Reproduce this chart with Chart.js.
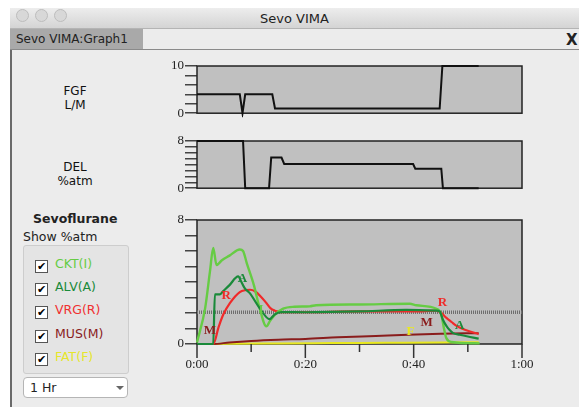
<!DOCTYPE html>
<html>
<head>
<meta charset="utf-8">
<script src="https://cdn.jsdelivr.net/npm/chart.js@4.4.1/dist/chart.umd.min.js"></script>
<style>
  body { margin: 0; width: 579px; height: 407px; background: #fff; overflow: hidden; position: relative;
         font-family: "DejaVu Sans", sans-serif; color: #222; }
  .abs { position: absolute; }
  #titlebar { left: 10px; top: 8px; width: 569px; height: 20px; background: linear-gradient(#ededed, #d4d4d4);
              border-bottom: 1px solid #b4b4b4; font-size: 13px; text-align: center; line-height: 22px; }
  .light { top: 9px; width: 11px; height: 11px; border-radius: 50%; background: #d8d8d8; border: 1px solid #bdbdbd; }
  #tabrow { left: 10px; top: 29px; width: 569px; height: 20px; background: #ececec; border-bottom: 1px solid #8a8a8a; }
  #tab { left: 10px; top: 29px; width: 133px; height: 20px; background: #a9a9a9; font-size: 12px; line-height: 20px; padding-left: 6px; box-sizing: border-box; }
  #closex { left: 566px; top: 29px; font-size: 15px; font-weight: bold; line-height: 22px; }
  #content { left: 10px; top: 50px; width: 569px; height: 357px; background: #ececec; border-left: 2px solid #6a6a6a; box-sizing: border-box; }
  .side { font-size: 12px; text-align: center; width: 60px; line-height: 14px; color: #111; }
  #group { left: 23px; top: 245px; width: 104px; height: 127px; background: #e4e4e4; border: 1px solid #cdcdcd; border-radius: 3px; }
  .row { left: 35px; height: 16px; font-size: 12.5px; line-height: 16px; }
  .box { display: inline-block; width: 11px; height: 11px; border: 1px solid #555; background: #fff; vertical-align: -2px;
         margin-right: 7px; font-size: 11px; line-height: 11px; text-align: center; font-weight: bold; color: #000; }
  #dropdown { left: 23px; top: 377px; width: 105px; height: 21px; background: #fff; border: 1px solid #b5b5b5; border-radius: 4px;
              box-sizing: border-box; font-size: 12.5px; line-height: 20px; padding-left: 6px; }
  #arrow { left: 92px; top: 8px; width: 0; height: 0; border-left: 4px solid transparent; border-right: 4px solid transparent; border-top: 4px solid #666; }
  canvas { position: absolute; }
</style>
</head>
<body>
<div id="titlebar" class="abs">Sevo VIMA</div>
<div class="abs light" style="left:16px"></div>
<div class="abs light" style="left:35px"></div>
<div class="abs light" style="left:54px"></div>
<div id="tabrow" class="abs"></div>
<div id="tab" class="abs">Sevo VIMA:Graph1</div>
<div id="closex" class="abs">X</div>
<div id="content" class="abs"></div>

<div class="abs side" style="left:45px;top:84px">FGF<br>L/M</div>
<div class="abs side" style="left:45px;top:160px">DEL<br>%atm</div>
<div class="abs" style="left:33px;top:211px;font-size:12.5px;font-weight:bold">Sevoflurane</div>
<div class="abs" style="left:23px;top:229px;font-size:12.5px">Show %atm</div>
<div id="group" class="abs"></div>
<div class="abs row" style="top:256px;color:#66cc44"><span class="box">✔</span>CKT(I)</div>
<div class="abs row" style="top:279px;color:#1a8a3a"><span class="box">✔</span>ALV(A)</div>
<div class="abs row" style="top:302px;color:#f03030"><span class="box">✔</span>VRG(R)</div>
<div class="abs row" style="top:326px;color:#8a1c1c"><span class="box">✔</span>MUS(M)</div>
<div class="abs row" style="top:349px;color:#e6e62a"><span class="box">✔</span>FAT(F)</div>
<div id="dropdown" class="abs">1 Hr<div id="arrow" class="abs"></div></div>

<canvas id="fgfChart" width="380" height="66" style="left:150px;top:56px"></canvas>
<canvas id="delChart" width="380" height="66" style="left:150px;top:131px"></canvas>
<canvas id="sevoChart" width="400" height="172" style="left:150px;top:210px"></canvas>

<script>
// time in minutes
const fgfTime = [0, 7.9, 8.4, 8.9, 13.9, 14.4, 44.8, 45.3, 52];
const fgfVal  = [4, 4, 0, 4, 4, 1, 1, 10, 10];

const delTime = [0, 8.5, 8.9, 13.3, 13.7, 15.6, 16.1, 39.9, 40.3, 45.1, 45.4, 52];
const delVal  = [8, 8, 0, 0, 5.2, 5.2, 4.1, 4.1, 3.3, 3.3, 0, 0];

const cktTime = [0, 1.5, 2.4, 3.0, 3.6, 4.6, 6.0, 7.9, 8.5, 9.2, 10.5, 11.5, 12.8, 13.5, 14.4, 15.9, 18, 20.8, 22, 30, 39.3, 40.5, 44.2, 45.1, 45.6, 46, 47, 52.2];
const cktVal  = [0.1, 2.3, 4.7, 6.2, 5.1, 5.4, 5.7, 6.1, 6.0, 5.2, 3.8, 2.4, 1.14, 1.5, 1.9, 2.28, 2.4, 2.43, 2.5, 2.55, 2.6, 2.5, 2.27, 1.9, 1.0, 0.4, 0.13, 0.04];

const alvTime = [0, 3.0, 3.3, 4.2, 4.8, 6.0, 7.6, 8.2, 8.8, 9.7, 11.6, 13.4, 14.3, 15.6, 20, 30, 38.6, 44.2, 44.8, 45.4, 46.1, 46.6, 47.3, 48.5, 49.8, 52];
const alvVal  = [0, 0, 3.2, 3.2, 3.4, 3.8, 4.36, 4.0, 3.6, 3.3, 2.3, 1.6, 1.9, 2.06, 2.05, 2.1, 2.2, 2.15, 2.1, 1.57, 1.14, 0.92, 0.7, 0.6, 0.5, 0.35];

const vrgTime = [0, 3.0, 4.0, 4.85, 6.1, 7.9, 9.0, 9.8, 10.7, 11.8, 12.8, 13.6, 14.4, 15.3, 20, 30, 40, 44.2, 45.1, 46, 47, 48, 49, 50, 52];
const vrgVal  = [0, 0, 1.1, 1.9, 2.65, 3.35, 3.48, 3.5, 3.4, 3.05, 2.65, 2.3, 2.15, 2.05, 2.05, 2.1, 2.1, 2.15, 2.0, 1.7, 1.42, 1.15, 0.98, 0.85, 0.64];

const musTime = [0, 3, 6, 10, 15, 20, 26, 33, 39, 45, 52];
const musVal  = [0, 0, 0.1, 0.2, 0.28, 0.33, 0.43, 0.52, 0.6, 0.66, 0.7];

const fatTime = [0, 6, 15, 25, 35, 45, 52];
const fatVal  = [0, 0.02, 0.04, 0.06, 0.08, 0.1, 0.11];

const macLevel = 2.05;

// letters written next to the curves
const tagText = ['M', 'R', 'A', 'I', 'F', 'M', 'R', 'A'];
const tagSeries = ['mus', 'vrg', 'alv', 'ckt', 'fat', 'mus', 'vrg', 'alv'];
const tagTime = [2.4, 5.4, 8.4, 11.8, 39.4, 42.4, 45.3, 48.5];
const tagVal  = [0.85, 3.1, 4.2, 2.2, 0.8, 1.35, 2.7, 1.2];

const colors = { ckt: '#66cc44', alv: '#1a8a3a', vrg: '#f02a2a', mus: '#8a1c1c', fat: '#e8e820' };

const pts = (ts, vs) => ts.map((t, i) => ({ x: t, y: vs[i] }));
const tickFont = { family: '"Liberation Serif", serif', size: 13 };

const plotFrame = {
  id: 'plotFrame',
  beforeDatasetsDraw(chart) {
    const { ctx, chartArea: a } = chart;
    ctx.save();
    ctx.fillStyle = '#c0c0c0';
    ctx.fillRect(a.left, a.top, a.width, a.height);
    ctx.strokeStyle = '#222';
    ctx.lineWidth = 1.5;
    ctx.strokeRect(a.left, a.top, a.width, a.height);
    ctx.restore();
  },
  afterDatasetsDraw(chart, args, opts) {
    const { ctx, chartArea: a } = chart;
    ctx.save();
    if (opts.xTicks) {
      const xs = chart.scales.x;
      ctx.strokeStyle = '#333';
      ctx.lineWidth = 1.5;
      xs.ticks.forEach(t => {
        const x = xs.getPixelForValue(t.value);
        ctx.beginPath();
        ctx.moveTo(x, a.bottom);
        ctx.lineTo(x, a.bottom + (t.value % 20 === 0 ? 14 : 8));
        ctx.stroke();
      });
    }
    if (opts.tags) {
      ctx.font = 'bold 13px "Liberation Serif", serif';
      ctx.textAlign = 'center';
      ctx.textBaseline = 'middle';
      tagText.forEach((s, i) => {
        ctx.fillStyle = colors[tagSeries[i]];
        ctx.fillText(s, chart.scales.x.getPixelForValue(tagTime[i]), chart.scales.y.getPixelForValue(tagVal[i]));
      });
    }
    ctx.restore();
  }
};

function yAxis(max, step) {
  return {
    min: 0, max: max,
    afterFit: s => { s.width = 47; },
    ticks: { stepSize: step, padding: 1, color: '#222', font: tickFont, autoSkip: false,
             callback: v => (v === 0 || v === max) ? String(v) : '' },
    grid: { drawOnChartArea: false, drawTicks: true, tickLength: 12, color: '#444', lineWidth: 1.5 },
    border: { display: false }
  };
}

function lineSet(data, color, width) {
  return { data: data, borderColor: color, borderWidth: width, pointRadius: 0, fill: false,
           tension: 0, clip: 4 };
}

function baseOptions(y, x, frame, rightPad) {
  return {
    responsive: false, animation: false, events: [],
    layout: { padding: { top: 10, right: rightPad, bottom: x.display === false ? 8 : 0, left: 0 } },
    scales: { x: x, y: y },
    plugins: { legend: { display: false }, tooltip: { enabled: false }, plotFrame: frame }
  };
}

const hiddenX = { type: 'linear', min: 0, max: 60, display: false };

new Chart(document.getElementById('fgfChart'), {
  type: 'line',
  data: { datasets: [lineSet(pts(fgfTime, fgfVal), '#111', 2)] },
  options: baseOptions(yAxis(10, 2), hiddenX, {}, 8),
  plugins: [plotFrame]
});

new Chart(document.getElementById('delChart'), {
  type: 'line',
  data: { datasets: [lineSet(pts(delTime, delVal), '#111', 2)] },
  options: baseOptions(yAxis(8, 1), hiddenX, {}, 8),
  plugins: [plotFrame]
});

const smooth = d => Object.assign(d, { cubicInterpolationMode: 'monotone' });
const macLine = lineSet([{ x: 0, y: macLevel }, { x: 60, y: macLevel }], '#6e6e6e', 3.5);
macLine.borderDash = [1, 1];

new Chart(document.getElementById('sevoChart'), {
  type: 'line',
  data: {
    datasets: [
      smooth(lineSet(pts(alvTime, alvVal), colors.alv, 2.2)),
      smooth(lineSet(pts(cktTime, cktVal), colors.ckt, 2.4)),
      smooth(lineSet(pts(vrgTime, vrgVal), colors.vrg, 2.2)),
      smooth(lineSet(pts(musTime, musVal), colors.mus, 2)),
      smooth(lineSet(pts(fatTime, fatVal), colors.fat, 2)),
      macLine
    ]
  },
  options: baseOptions(yAxis(8, 1), {
    type: 'linear', min: 0, max: 60,
    afterFit: s => { s.height = 38; },
    ticks: { stepSize: 10, padding: 13, color: '#222', font: tickFont, maxRotation: 0, autoSkip: false,
             callback: v => v % 20 === 0 ? Math.floor(v / 60) + ':' + String(v % 60).padStart(2, '0') : '' },
    grid: { display: false, drawTicks: false },
    border: { display: false }
  }, { xTicks: true, tags: true }, 28),
  plugins: [plotFrame]
});
</script>
</body>
</html>
